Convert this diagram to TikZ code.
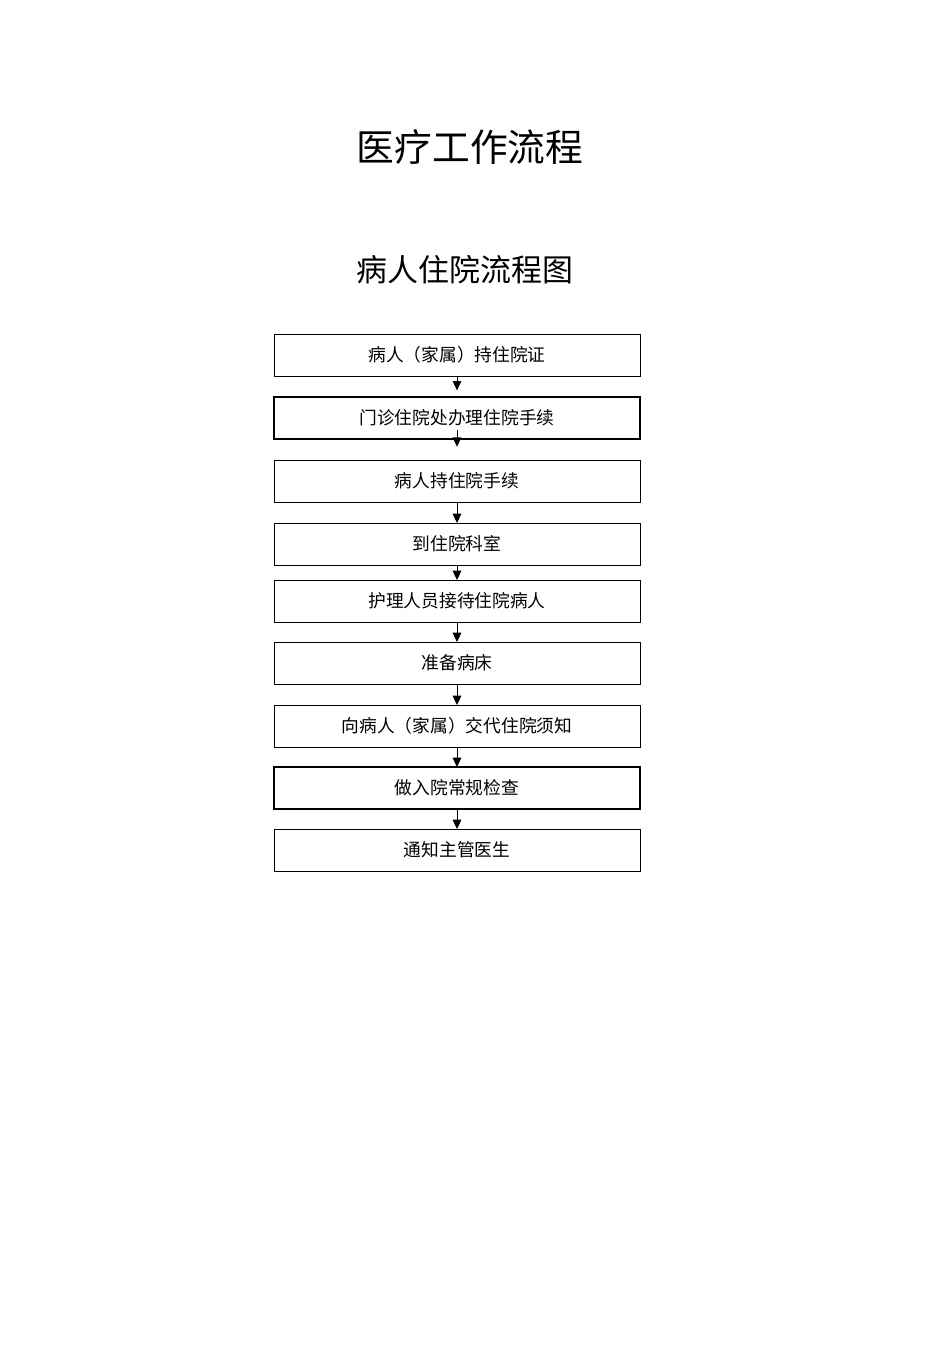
\documentclass[tikz,border=0pt]{standalone}
\usepackage{fontspec}
\setmainfont{Noto Sans CJK SC}
\usetikzlibrary{shapes,arrows.meta,positioning}
\tikzstyle{stage} = [rectangle, draw, line width=0.7pt, fill=white,
    minimum width=274.5pt, minimum height=31.5pt, inner sep=0pt, outer sep=0pt,
    text centered, font=\fontsize{13.3pt}{16pt}\selectfont]
\tikzstyle{stagebold} = [stage, line width=1.4pt]
\tikzstyle{flow} = [draw, line width=0.7pt, -{Triangle[width=6.5pt,length=7pt]}]

\begin{document}
\begin{tikzpicture}[x=0.75pt, y=-0.75pt]
    \useasboundingbox (0,0) rectangle (950,1346);

    \node (title) at (470,147) {\fontsize{28.3pt}{34pt}\selectfont 医疗工作流程};
    \node (subtitle) at (465,270) {\fontsize{23.2pt}{28pt}\selectfont 病人住院流程图};

    \node[stage] (permit) at (457,355) {病人（家属）持住院证};
    \node[stagebold,below=15.75pt of permit] (register) {门诊住院处办理住院手续};
    \node[stage,below=15.75pt of register] (papers) {病人持住院手续};
    \node[stage,below=15.75pt of papers] (ward) {到住院科室};
    \node[stage,below=11.25pt of ward] (reception) {护理人员接待住院病人};
    \node[stage,below=15pt of reception] (bed) {准备病床};
    \node[stage,below=15.75pt of bed] (notice) {向病人（家属）交代住院须知};
    \node[stagebold,below=15pt of notice] (checkup) {做入院常规检查};
    \node[stage,below=15pt of checkup] (doctor) {通知主管医生};

    \path[flow, shorten >=5pt] (permit) -- (register);
    \path[flow] ([yshift=7pt]register.south) -- ([yshift=10pt]papers.north);
    \path[flow] (papers) -- (ward);
    \path[flow] (ward) -- (reception);
    \path[flow] (reception) -- (bed);
    \path[flow] (bed) -- (notice);
    \path[flow] (notice) -- (checkup);
    \path[flow] (checkup) -- (doctor);
\end{tikzpicture}
\end{document}
